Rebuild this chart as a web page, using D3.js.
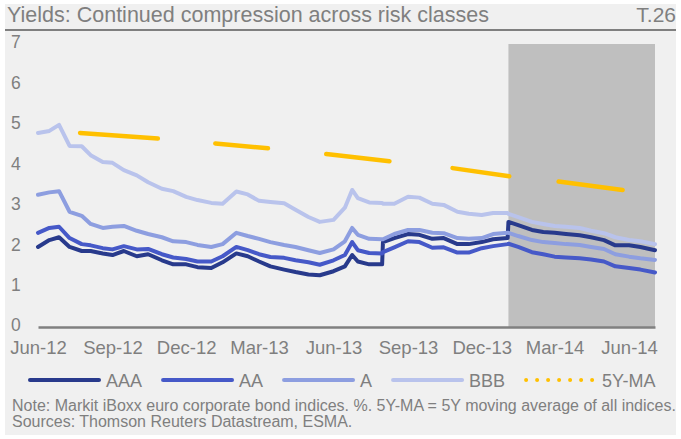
<!DOCTYPE html>
<html>
<head>
<meta charset="utf-8">
<script src="https://cdn.jsdelivr.net/npm/d3@7/dist/d3.min.js"></script>
<style>
  body { margin: 0; background: #ffffff; }
  text { font-family: "Liberation Sans", Arial, sans-serif; fill: #7f7f7f; }
</style>
</head>
<body>
<div id="chart"></div>
<script>
// chart data
const dates = [
  "2012-06-01","2012-06-15","2012-06-27","2012-07-10","2012-07-25","2012-08-05","2012-08-20","2012-09-01","2012-09-15","2012-10-01","2012-10-15","2012-11-01","2012-11-15","2012-12-01","2012-12-15",
  "2013-01-01","2013-01-15","2013-02-01","2013-02-15","2013-03-01","2013-03-15","2013-04-01","2013-04-15","2013-05-01","2013-05-15","2013-06-01","2013-06-15","2013-06-24","2013-07-01","2013-07-15","2013-07-31","2013-08-01","2013-08-15","2013-09-01","2013-09-15","2013-10-01","2013-10-15","2013-11-01","2013-11-15","2013-12-01","2013-12-15",
  "2014-01-02","2014-01-03","2014-01-15","2014-02-01","2014-02-15","2014-03-01","2014-03-15","2014-04-01","2014-04-15","2014-05-01","2014-05-15","2014-06-01","2014-06-15","2014-07-03"
];
const aaa = [
  1.98,2.15,2.22,1.98,1.88,1.88,1.82,1.78,1.88,1.75,1.80,1.65,1.55,1.55,1.48,
  1.46,1.60,1.82,1.75,1.62,1.50,1.42,1.36,1.30,1.28,1.38,1.50,1.78,1.62,1.55,1.55,2.10,2.20,2.30,2.28,2.18,2.20,2.05,2.05,2.10,2.17,
  2.20,2.60,2.52,2.40,2.35,2.33,2.30,2.27,2.22,2.15,2.02,2.02,1.98,1.90
];
const aa = [
  2.33,2.45,2.48,2.20,2.05,2.02,1.95,1.92,2.00,1.92,1.93,1.80,1.72,1.68,1.62,
  1.62,1.75,1.98,1.90,1.80,1.73,1.71,1.65,1.60,1.54,1.65,1.78,2.10,1.90,1.83,1.82,1.85,1.97,2.12,2.10,1.96,1.97,1.84,1.84,1.95,2.00,
  2.05,2.06,1.98,1.85,1.80,1.74,1.72,1.70,1.67,1.62,1.50,1.46,1.42,1.35
];
const a = [
  3.27,3.33,3.36,2.85,2.75,2.55,2.45,2.48,2.50,2.38,2.30,2.22,2.12,2.10,2.03,
  1.98,2.05,2.33,2.25,2.18,2.10,2.03,1.98,1.90,1.83,1.92,2.12,2.45,2.28,2.18,2.17,2.17,2.30,2.40,2.40,2.33,2.32,2.20,2.18,2.20,2.30,
  2.33,2.33,2.25,2.15,2.10,2.08,2.05,2.03,1.98,1.93,1.80,1.74,1.70,1.66
];
const bbb = [
  4.80,4.85,5.00,4.48,4.47,4.25,4.08,4.06,3.88,3.75,3.58,3.42,3.36,3.22,3.14,
  3.07,3.05,3.35,3.28,3.12,3.09,3.06,2.90,2.72,2.60,2.65,2.95,3.39,3.19,3.08,3.07,3.05,3.05,3.22,3.20,3.05,3.02,2.85,2.80,2.77,2.82,
  2.82,2.80,2.72,2.60,2.55,2.50,2.48,2.45,2.38,2.32,2.22,2.15,2.12,2.05
];
// 5Y moving average, only shown in pieces (null = gap)
const maDates = ["2012-07-23","2012-10-27","2012-12-01","2013-01-06","2013-03-12","2013-04-15","2013-05-23","2013-08-09","2013-09-15","2013-10-26","2014-01-04","2014-02-01","2014-03-06","2014-05-24"];
const maValues = [4.80,4.66,null,4.54,4.42,null,4.28,4.10,null,3.93,3.73,null,3.60,3.39];

const seriesNames = ["AAA", "AA", "A", "BBB"];
const seriesColors = ["#283a8c", "#4659c8", "#8d9ee0", "#b9c3ec"];
const maName = "5Y-MA";
const maColor = "#ffc000";

const xTicks = ["2012-06-01","2012-09-01","2012-12-01","2013-03-01","2013-06-01","2013-09-01","2013-12-01","2014-03-01","2014-06-01"];
const yTicks = [0, 1, 2, 3, 4, 5, 6, 7];
const shadeRange = ["2014-01-03", "2014-07-03"];

const titleText = "Yields: Continued compression across risk classes";
const chartNo = "T.26";
const noteText = "Note: Markit iBoxx euro corporate bond indices. %. 5Y-MA = 5Y moving average of all indices.";
const sourceText = "Sources: Thomson Reuters Datastream, ESMA.";

// frame
const FRAME_WIDTH = 681;
const FRAME_HEIGHT = 439;
const PLOT = {left: 38, right: 655, top: 44, bottom: 327};

const parse = d3.timeParse("%Y-%m-%d");

const svg = d3.select("#chart")
  .append("svg")
    .attr("width", FRAME_WIDTH)
    .attr("height", FRAME_HEIGHT);

// grey panel background
svg.append("rect")
  .attr("x", 5).attr("y", 4)
  .attr("width", 671).attr("height", 431)
  .attr("fill", "#f0f0f0");

// title + rule
svg.append("text")
  .attr("x", 7).attr("y", 22)
  .attr("font-size", "21.5px")
  .text(titleText);
svg.append("text")
  .attr("x", 676).attr("y", 22)
  .attr("text-anchor", "end")
  .attr("font-size", "21px")
  .text(chartNo);
svg.append("line")
  .attr("x1", 5).attr("x2", 676)
  .attr("y1", 30).attr("y2", 30)
  .attr("stroke", "#7f7f7f")
  .attr("stroke-width", 2);

// scales
const X_SCALE = d3.scaleTime()
  .domain([parse(dates[0]), parse(dates[dates.length - 1])])
  .range([PLOT.left, PLOT.right]);
const Y_SCALE = d3.scaleLinear()
  .domain([0, 7])
  .range([PLOT.bottom, PLOT.top]);

// shaded period
svg.append("rect")
  .attr("x", X_SCALE(parse(shadeRange[0])))
  .attr("y", Y_SCALE(7))
  .attr("width", X_SCALE(parse(shadeRange[1])) - X_SCALE(parse(shadeRange[0])))
  .attr("height", Y_SCALE(0) - Y_SCALE(7))
  .attr("fill", "#bfbfbf");

// axes
const xAxis = svg.append("g")
  .attr("transform", "translate(0," + PLOT.bottom + ")")
  .call(d3.axisBottom(X_SCALE)
    .tickValues(xTicks.map(parse))
    .tickFormat(d3.timeFormat("%b-%y"))
    .tickSize(0)
    .tickPadding(13.5));
xAxis.select(".domain").attr("stroke", "#808080").attr("stroke-width", 2.5);
xAxis.selectAll("text")
  .attr("font-size", "18.5px")
  .attr("font-family", "Liberation Sans, Arial, sans-serif")
  .attr("fill", "#7f7f7f");

const yAxis = svg.append("g")
  .call(d3.axisLeft(Y_SCALE).tickValues(yTicks).tickFormat(d3.format("d")).tickSize(0));
yAxis.select(".domain").remove();
yAxis.selectAll("text")
  .attr("x", 11)
  .attr("dy", "0.22em")
  .attr("text-anchor", "start")
  .attr("font-size", "17.5px")
  .attr("font-family", "Liberation Sans, Arial, sans-serif")
  .attr("fill", "#7f7f7f");

// series lines
const allSeries = [aaa, aa, a, bbb];
const line = d3.line()
  .x((d) => X_SCALE(d.date))
  .y((d) => Y_SCALE(d.value));

allSeries.forEach((vals, i) => {
  const pts = dates.map((d, j) => ({date: parse(d), value: vals[j]}));
  svg.append("path")
    .datum(pts)
    .attr("d", line)
    .attr("fill", "none")
    .attr("stroke", seriesColors[i])
    .attr("stroke-width", 4)
    .attr("stroke-linejoin", "round")
    .attr("stroke-linecap", "round");
});

// 5Y-MA
const maLine = d3.line()
  .defined((d) => d.value !== null)
  .x((d) => X_SCALE(d.date))
  .y((d) => Y_SCALE(d.value));
svg.append("path")
  .datum(maDates.map((d, j) => ({date: parse(d), value: maValues[j]})))
  .attr("d", maLine)
  .attr("fill", "none")
  .attr("stroke", maColor)
  .attr("stroke-width", 4.5)
  .attr("stroke-linecap", "round");

// legend
const legend = svg.append("g").attr("transform", "translate(0,380)");
let lx = 30;
const legendItems = seriesNames.map((n, i) => ({name: n, color: seriesColors[i], dotted: false}))
  .concat([{name: maName, color: maColor, dotted: true}]);
legendItems.forEach((item) => {
  legend.append("line")
    .attr("x1", lx).attr("x2", lx + 69)
    .attr("y1", 0).attr("y2", 0)
    .attr("stroke", item.color)
    .attr("stroke-width", 4)
    .attr("stroke-linecap", "round")
    .attr("stroke-dasharray", item.dotted ? "0,11" : null);
  const t = legend.append("text")
    .attr("x", lx + 76).attr("y", 6.5)
    .attr("font-size", "18px")
    .text(item.name);
  lx += 76 + t.node().getComputedTextLength() + 21;
});

// note + sources
svg.append("text")
  .attr("x", 12).attr("y", 411)
  .attr("font-size", "16px")
  .text(noteText);
svg.append("text")
  .attr("x", 12).attr("y", 427)
  .attr("font-size", "16px")
  .text(sourceText);
</script>
</body>
</html>
